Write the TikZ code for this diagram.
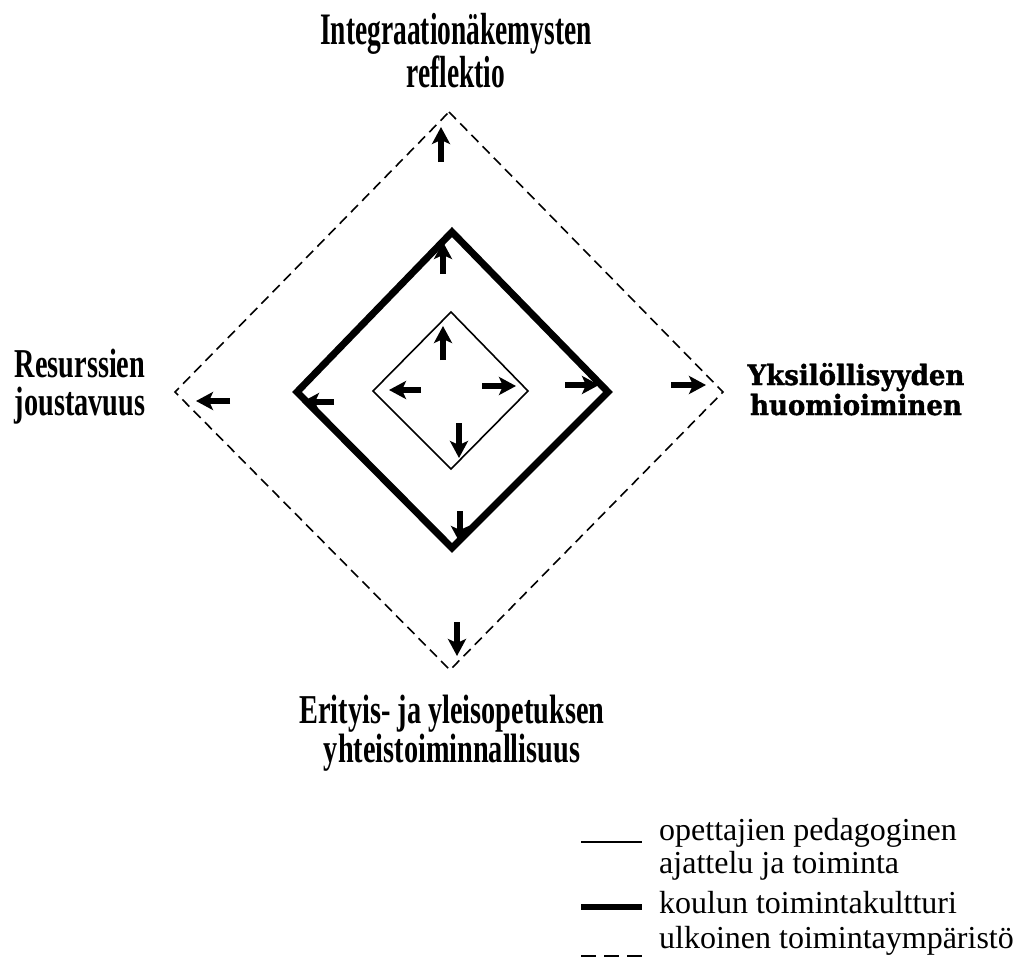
\documentclass[tikz,border=0pt]{standalone}
\usepackage{fontspec}
\setmainfont{Liberation Serif}
\newfontfamily\topfont{Liberation Serif}[FakeStretch=0.61]
\newfontfamily\sidefont{Liberation Serif}[FakeStretch=0.69]
\newfontfamily\widefont{DejaVu Serif}[FakeStretch=0.93,FakeBold=1.2]
\usetikzlibrary{arrows.meta}

\begin{document}
\begin{tikzpicture}[x=1pt,y=-1pt,
    pil/.style={line width=6pt,-{Stealth[length=17pt,width=18pt,inset=4pt]}},
    ohut/.style={line width=1.6pt,line join=miter},
    paksu/.style={line width=7pt,line join=miter},
    katko/.style={line width=1.6pt,dash pattern=on 10pt off 6pt},
    otsikko/.style={align=center,inner sep=0pt,anchor=base},
    selite/.style={anchor=base west,inner sep=0pt,align=left,font=\fontsize{32}{33}\selectfont}]
        \useasboundingbox (0,0) rectangle (1026,958);

        % vinoneliöt
        \draw[katko] (449,112) -- (723,392) -- (450,670) -- (175,392) -- cycle;
        \draw[paksu] (452,232) -- (608,392) -- (452,548) -- (297,392) -- cycle;
        \draw[ohut] (451,312) -- (528,391) -- (451,469) -- (373,391) -- cycle;

        % nuolet ulospäin
        \draw[pil] (443,360) -- (443,326);
        \draw[pil] (421,390) -- (389,390);
        \draw[pil] (482,386) -- (516,386);
        \draw[pil] (459,423) -- (459,458);

        \draw[pil] (443,274) -- (443,242);
        \draw[pil] (334,402) -- (302,402);
        \draw[pil] (565,385) -- (599,385);
        \draw[pil] (460,511) -- (460,543);

        \draw[pil] (441,162) -- (441,127);
        \draw[pil] (230,401) -- (196,401);
        \draw[pil] (671,385) -- (706,385);
        \draw[pil] (457,622) -- (457,656);

        % otsikot (base = alin rivi)
        \node[otsikko,font=\topfont\bfseries\fontsize{45}{43}\selectfont] (ylos) at (456,88)
            {Integraationäkemysten\\reflektio};
        \node[otsikko,font=\sidefont\bfseries\fontsize{41}{32}\selectfont] (alas) at (452,762)
            {Erityis- ja yleisopetuksen\\yhteistoiminnallisuus};
        \node[otsikko,font=\sidefont\bfseries\fontsize{41}{38}\selectfont] (vasen) at (80,415)
            {Resurssien\\joustavuus};
        \node[otsikko,font=\widefont\bfseries\fontsize{28}{30}\selectfont] (oikea) at (856,415)
            {Yksilöllisyyden\\huomioiminen};

        % selite
        \draw[line width=1.6pt] (581,842) -- (642,842);
        \draw[line width=6pt] (581,907) -- (642,907);
        \draw[line width=1.6pt,dash pattern=on 15pt off 8pt] (581,956) -- (642,956);
        \node[selite] (s1) at (659,873) {opettajien pedagoginen\\ajattelu ja toiminta};
        \node[selite] (s2) at (659,913) {koulun toimintakultturi};
        \node[selite] (s3) at (659,948) {ulkoinen toimintaympäristö};
\end{tikzpicture}
\end{document}
